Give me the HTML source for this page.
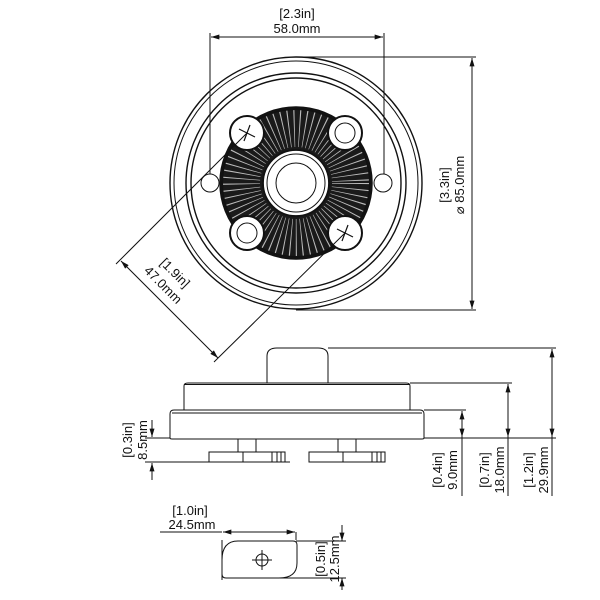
<!DOCTYPE html>
<html><head><meta charset="utf-8"><style>
html,body{margin:0;padding:0;background:#fff;width:600px;height:600px;overflow:hidden}
text{font-family:"Liberation Sans",sans-serif;font-size:13px;fill:#111}
</style></head><body>
<svg width="600" height="600" viewBox="0 0 600 600" xmlns="http://www.w3.org/2000/svg">
<defs>
<marker id="a" viewBox="0 0 10 6" refX="10" refY="3" markerWidth="9" markerHeight="5" orient="auto-start-reverse" markerUnits="userSpaceOnUse"><path d="M0,0L10,3L0,6z" fill="#111"/></marker>
</defs>
<g fill="none" stroke="#111" stroke-width="1">
<circle cx="296" cy="183" r="126" stroke-width="1.4"/>
<circle cx="296" cy="183" r="122"/>
<circle cx="296" cy="183" r="110" stroke-width="1.4"/>
<circle cx="296" cy="183" r="105" stroke-width="1.4"/>
<circle cx="296" cy="183" r="76" fill="#1a1a1a" stroke-width="1.5"/>
<circle cx="296" cy="183" r="55" stroke="#bbb" stroke-width="38" stroke-dasharray="0.9 4.45"/>
<circle cx="296" cy="183" r="74" stroke="#111" stroke-width="2"/>
<circle cx="296" cy="183" r="33" fill="#fff" stroke-width="1.8"/>
<circle cx="296" cy="183" r="29" stroke-width="1"/>
<circle cx="296" cy="183" r="20" stroke-width="1"/>
<circle cx="247" cy="133" r="17" fill="#fff" stroke-width="2"/>
<circle cx="345" cy="133" r="17" fill="#fff" stroke-width="2"/>
<circle cx="345" cy="133" r="10"/>
<circle cx="247" cy="233" r="17" fill="#fff" stroke-width="2"/>
<circle cx="247" cy="233" r="10"/>
<circle cx="345" cy="233" r="17" fill="#fff" stroke-width="2"/>
<circle cx="210" cy="183" r="9" fill="#fff"/>
<circle cx="383" cy="183" r="9" fill="#fff"/>
<path d="M210,33V174M384,33V174"/>
<path d="M211,37H383" marker-start="url(#a)" marker-end="url(#a)"/>
<path d="M296,57H476M296,310H476"/>
<path d="M472,58V309" marker-start="url(#a)" marker-end="url(#a)"/>
<path d="M247,133L116,264M345,233L214,362"/>
<path d="M121,261L218,358" marker-start="url(#a)" marker-end="url(#a)"/>
<path d="M267,383V356q0,-8 10,-8h41q10,0 10,8V383"/>
<path d="M184,410V386q0,-3 4,-3H406q4,0 4,3V410"/>
<path d="M184,384.5H410"/>
<path d="M170,438V414q0,-4 4,-4H420q4,0 4,4V438q0,1 -2,1H172q-2,0 -2,-1z"/>
<path d="M172,413H422"/>
<path d="M238,439V452M256,439V452M338,439V452M356,439V452"/>
<rect x="209" y="452" width="76" height="10"/>
<rect x="309" y="452" width="76" height="10"/>
<path d="M243,452v10M272,452v10M277,452v10M281,452v10M343,452v10M372,452v10M377,452v10M381,452v10"/>
<path d="M424,438H556M424,410H466M410,383H512M328,348H556"/>
<path d="M462,411V437" marker-start="url(#a)" marker-end="url(#a)"/>
<path d="M508,384V437" marker-start="url(#a)" marker-end="url(#a)"/>
<path d="M552,349V437" marker-start="url(#a)" marker-end="url(#a)"/>
<path d="M462,437V496M508,437V496M552,437V496"/>
<path d="M145,438H170M145,462H290"/>
<path d="M152,420V437M152,463V480"/>
<path d="M152,430V437" marker-end="url(#a)"/><path d="M152,470V463" marker-end="url(#a)"/>
<path d="M222,580V540M296,540V532"/>
<path d="M160,532H222"/>
<path d="M223,532H295" marker-start="url(#a)" marker-end="url(#a)"/>
<path d="M238,541H293q4,0 4,4V563q0,15 -18,15H226q-4,0 -4,-4V560q0,-19 16,-19z"/>
<path d="M252,560h20M262,550v20"/><circle cx="262" cy="560" r="6"/>
<path d="M296,541H346M280,578H346"/>
<path d="M342,525V541"/><path d="M342,530V541" marker-end="url(#a)"/>
<path d="M342,590V578"/><path d="M342,588V578" marker-end="url(#a)"/>
</g>
<g fill="none" stroke="#111" stroke-width="1.2">
<path d="M239,129l16,8M244,141l6,-16"/>
<path d="M337,229l16,8M342,241l6,-16"/>
</g>
<text x="297" y="18" text-anchor="middle">[2.3in]</text>
<text x="297" y="33" text-anchor="middle">58.0mm</text>
<text transform="translate(449,185) rotate(-90)" text-anchor="middle">[3.3in]</text>
<text transform="translate(464,185) rotate(-90)" text-anchor="middle">⌀ 85.0mm</text>
<text transform="translate(172,276) rotate(45)" text-anchor="middle">[1.9in]</text>
<text transform="translate(160,288) rotate(45)" text-anchor="middle">47.0mm</text>
<text transform="translate(132,440) rotate(-90)" text-anchor="middle">[0.3in]</text>
<text transform="translate(147,440) rotate(-90)" text-anchor="middle">8.5mm</text>
<text transform="translate(442,470) rotate(-90)" text-anchor="middle">[0.4in]</text>
<text transform="translate(457,470) rotate(-90)" text-anchor="middle">9.0mm</text>
<text transform="translate(489,470) rotate(-90)" text-anchor="middle">[0.7in]</text>
<text transform="translate(504,470) rotate(-90)" text-anchor="middle">18.0mm</text>
<text transform="translate(533,470) rotate(-90)" text-anchor="middle">[1.2in]</text>
<text transform="translate(548,470) rotate(-90)" text-anchor="middle">29.9mm</text>
<text x="190" y="515" text-anchor="middle">[1.0in]</text>
<text x="192" y="529" text-anchor="middle">24.5mm</text>
<text transform="translate(325,559) rotate(-90)" text-anchor="middle">[0.5in]</text>
<text transform="translate(339,559) rotate(-90)" text-anchor="middle">12.5mm</text>
</svg>
</body></html>
